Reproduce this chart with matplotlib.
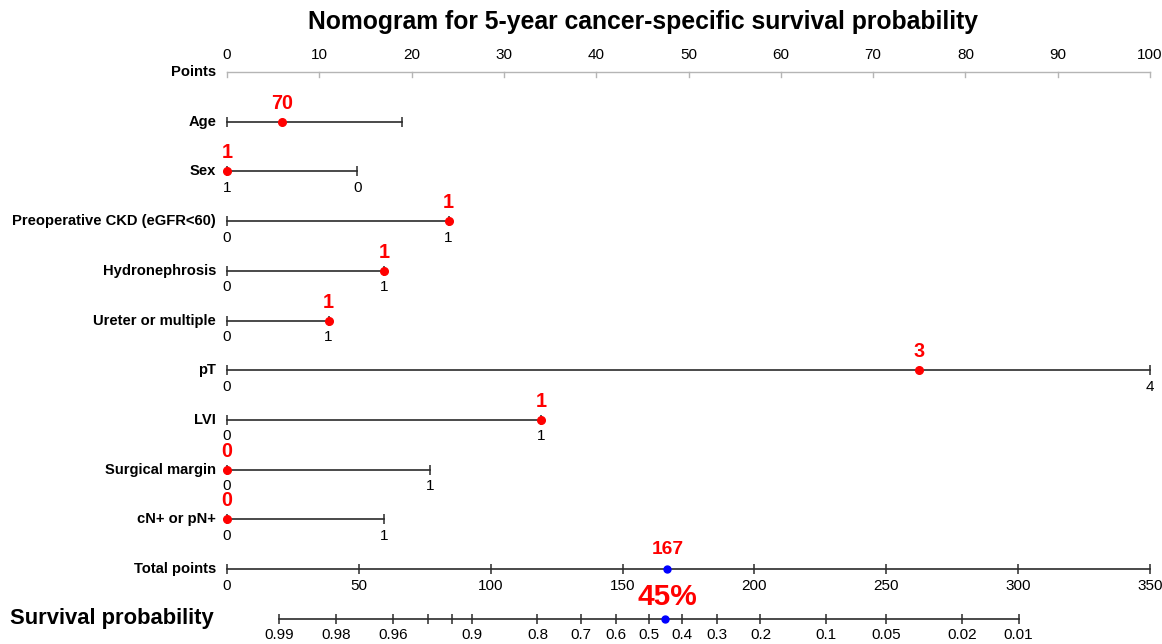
import numpy as np
import matplotlib
matplotlib.use("Agg")
import matplotlib.pyplot as plt

plt.rcParams['font.family'] = ['Liberation Sans', 'DejaVu Sans']

# ---------------- data ----------------
title = "Nomogram for 5-year cancer-specific survival probability"
point_ticks = [0, 10, 20, 30, 40, 50, 60, 70, 80, 90, 100]

variables = ["Age", "Sex", "Preoperative CKD (eGFR<60)", "Hydronephrosis",
             "Ureter or multiple", "pT", "LVI", "Surgical margin", "cN+ or pN+"]
var_tick_points = [[0, 19], [0, 14.1], [0, 24], [0, 17], [0, 11],
                   [0, 100], [0, 34], [0, 22], [0, 17]]
var_tick_labels = [["", ""], ["1", "0"], ["0", "1"], ["0", "1"], ["0", "1"],
                   ["0", "4"], ["0", "1"], ["0", "1"], ["0", "1"]]
selected_points = [6, 0, 24, 17, 11, 75, 34, 0, 0]
selected_labels = ["70", "1", "1", "1", "1", "3", "1", "0", "0"]

total_max = 350
total_ticks = [0, 50, 100, 150, 200, 250, 300, 350]

prob_ticks = [0.99, 0.98, 0.96, 0.94, 0.92, 0.9, 0.8, 0.7, 0.6, 0.5, 0.4,
              0.3, 0.2, 0.1, 0.05, 0.02, 0.01]
prob_labels = ["0.99", "0.98", "0.96", "", "", "0.9", "0.8", "0.7", "0.6",
               "0.5", "0.4", "0.3", "0.2", "0.1", "0.05", "0.02", "0.01"]
predicted_prob = 0.45
prob_label = "45%"
# logistic model linking total points and survival probability
points_at_half = 160.0
points_per_logit = 30.5

# ---------------- layout ----------------
W, H = 1162, 644
X0_PX, PX_PER_PT = 227, 9.23
Y0_PX, ROW_PX = 72, 49.7

fig = plt.figure(figsize=(W / 100, H / 100), dpi=100)
ax = fig.add_axes([0, 0, 1, 1])
ax.axis('off')
ax.set_xlim(-X0_PX / PX_PER_PT, (W - X0_PX) / PX_PER_PT)
ax.set_ylim((H - Y0_PX) / ROW_PX, -Y0_PX / ROW_PX)

LINE_C = '#2b2b2b'
LAB_X = -11 / PX_PER_PT
FS_TICK = 11
FS_ROW = 10.6
FS_RED = 14.2


def total_to_x(t):
    return np.asarray(t, dtype=float) * 100.0 / total_max


def prob_to_total(p):
    p = np.asarray(p, dtype=float)
    return points_at_half - points_per_logit * np.log(p / (1 - p))


def row_label(y, text, fs=FS_ROW):
    ax.text(LAB_X, y, text, ha='right', va='center', fontsize=fs,
            fontweight='bold', color='black')


def tick_label(x, y, text):
    ax.annotate(text, (x, y), xytext=(0, -16.5), textcoords='offset pixels',
                ha='center', va='center', fontsize=FS_TICK, color='black')


# title
ax.annotate(title, (50, 0), xytext=(-45, 50), textcoords='offset pixels',
            ha='center', va='center', fontsize=17.8, fontweight='bold')

# Points axis
y = 0
ax.plot([0, 100], [y, y], color='#b5b5b5', lw=1)
for t in point_ticks:
    ax.plot([t, t], [y, y + 5 / ROW_PX], color='#b5b5b5', lw=1)
    ax.annotate(str(t), (t, y), xytext=(0, 17), textcoords='offset pixels',
                ha='center', va='center', fontsize=FS_TICK)
row_label(y, "Points")

# variable rows
for i, name in enumerate(variables):
    y = i + 1
    tp = var_tick_points[i]
    ax.plot([min(tp), max(tp)], [y, y], color=LINE_C, lw=1.2)
    ax.plot(tp, [y] * len(tp), ls='none', marker='|', ms=7, mew=1.1, color=LINE_C)
    for x, lab in zip(tp, var_tick_labels[i]):
        if lab:
            tick_label(x, y, lab)
    row_label(y, name)
    sp = selected_points[i]
    ax.plot([sp], [y], 'o', color='red', ms=5.5, zorder=5)
    ax.annotate(selected_labels[i], (sp, y), xytext=(0, 18.5),
                textcoords='offset pixels', ha='center', va='center',
                fontsize=FS_RED, fontweight='bold', color='red')

# Total points
y = len(variables) + 1
ax.plot([0, 100], [y, y], color=LINE_C, lw=1.2)
tx = total_to_x(total_ticks)
ax.plot(tx, [y] * len(tx), ls='none', marker='|', ms=7, mew=1.1, color=LINE_C)
for x, t in zip(tx, total_ticks):
    tick_label(x, y, str(t))
row_label(y, "Total points")
total = sum(selected_points)
ax.plot([total_to_x(total)], [y], 'o', color='blue', ms=5, zorder=5)
ax.annotate(str(total), (total_to_x(total), y), xytext=(0, 20),
            textcoords='offset pixels', ha='center', va='center',
            fontsize=FS_RED - 0.4, fontweight='bold', color='red')

# Survival probability
y = len(variables) + 2
px = total_to_x(prob_to_total(prob_ticks))
ax.plot([px.min(), px.max()], [y, y], color=LINE_C, lw=1.2)
ax.plot(px, [y] * len(px), ls='none', marker='|', ms=7, mew=1.1, color=LINE_C)
for x, lab in zip(px, prob_labels):
    if lab:
        tick_label(x, y, lab)
ax.annotate("Survival probability", (-X0_PX / PX_PER_PT, y), xytext=(10, 0),
            textcoords='offset pixels', ha='left', va='center',
            fontsize=15.8, fontweight='bold')
ppx = total_to_x(prob_to_total(predicted_prob))
ax.plot([ppx], [y], 'o', color='blue', ms=5, zorder=5)
ax.annotate(prob_label, (ppx, y), xytext=(2, 22), textcoords='offset pixels',
            ha='center', va='center', fontsize=21.5, fontweight='bold', color='red')

fig.savefig("out.png", dpi=100)
